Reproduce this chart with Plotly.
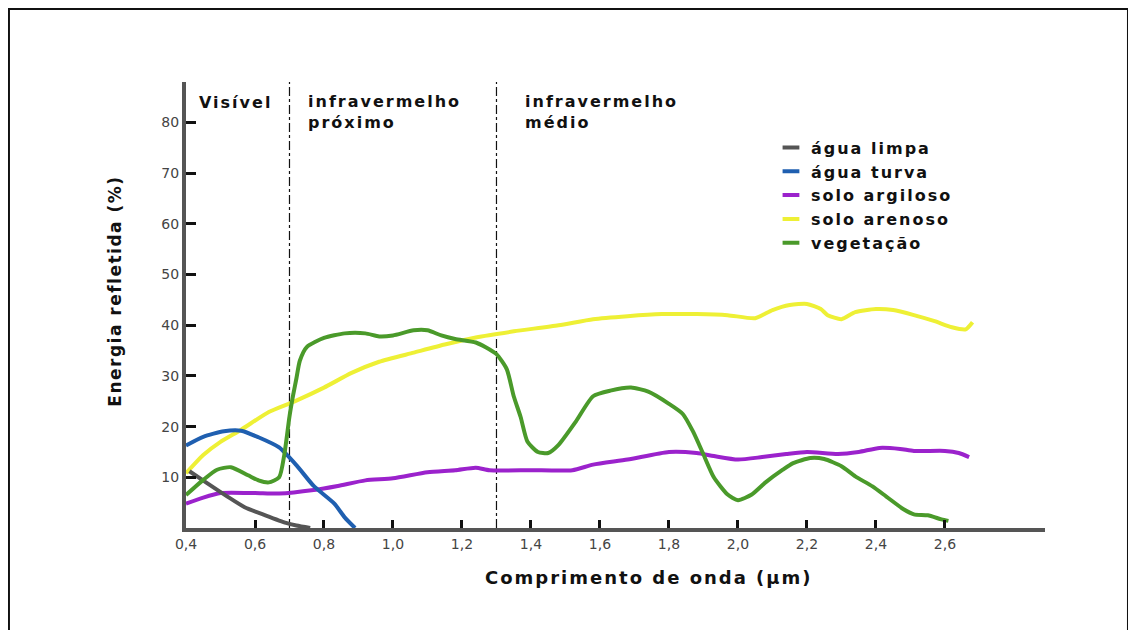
import plotly.graph_objects as go

# ---------------- data ----------------
agua_limpa_x = [0.41, 0.46, 0.52, 0.57, 0.63, 0.69, 0.72, 0.76]
agua_limpa_y = [11.2, 8.9, 6.2, 4.1, 2.5, 1.0, 0.5, 0.0]

agua_turva_x = [0.40, 0.45, 0.51, 0.56, 0.61, 0.67, 0.72, 0.77, 0.83, 0.86, 0.89]
agua_turva_y = [16.3, 18.0, 19.1, 19.2, 17.9, 15.9, 12.4, 8.3, 4.8, 2.1, 0.0]

solo_argiloso_x = [0.40, 0.45, 0.50, 0.60, 0.67, 0.77, 0.84, 0.92, 1.00, 1.10, 1.18, 1.24,
                   1.28, 1.40, 1.52, 1.58, 1.68, 1.80, 1.88, 1.93, 2.00, 2.07, 2.14, 2.20,
                   2.29, 2.35, 2.41, 2.47, 2.51, 2.60, 2.64, 2.67]
solo_argiloso_y = [4.8, 6.0, 6.9, 6.9, 6.8, 7.5, 8.3, 9.4, 9.8, 11.0, 11.4, 11.9,
                   11.4, 11.4, 11.4, 12.5, 13.5, 15.0, 14.8, 14.2, 13.5, 14.0, 14.6, 15.0,
                   14.6, 15.0, 15.8, 15.6, 15.2, 15.2, 14.8, 14.0]

solo_arenoso_x = [0.40, 0.45, 0.50, 0.56, 0.64, 0.715, 0.80, 0.88, 0.96, 1.06, 1.15, 1.24,
                  1.35, 1.48, 1.58, 1.68, 1.78, 1.88, 1.97, 2.05, 2.10, 2.15, 2.20, 2.24,
                  2.26, 2.30, 2.34, 2.40, 2.45, 2.51, 2.57, 2.62, 2.66, 2.68]
solo_arenoso_y = [10.8, 14.4, 17.0, 19.4, 22.9, 25.0, 27.7, 30.6, 32.8, 34.6, 36.2, 37.6,
                  38.8, 40.0, 41.2, 41.8, 42.2, 42.2, 42.0, 41.4, 43.0, 44.0, 44.2, 43.2,
                  42.0, 41.2, 42.6, 43.2, 43.0, 42.0, 40.8, 39.6, 39.2, 40.6]

vegetacao_x = [0.40, 0.45, 0.49, 0.53, 0.58, 0.61, 0.64, 0.67, 0.685, 0.70, 0.71, 0.72,
               0.73, 0.75, 0.80, 0.86, 0.92, 0.96, 1.00, 1.06, 1.10, 1.14, 1.18, 1.24,
               1.27, 1.30, 1.33, 1.35, 1.37, 1.39, 1.42, 1.45, 1.48, 1.53, 1.58, 1.63,
               1.69, 1.74, 1.80, 1.84, 1.87, 1.90, 1.93, 1.97, 2.00, 2.04, 2.08, 2.13,
               2.16, 2.21, 2.25, 2.30, 2.34, 2.39, 2.43, 2.48, 2.51, 2.55, 2.59, 2.61]
vegetacao_y = [6.5, 9.5, 11.5, 12.0, 10.4, 9.4, 9.0, 10.0, 14.5, 22.0, 26.0, 29.5,
               33.0, 35.7, 37.5, 38.4, 38.4, 37.8, 38.0, 39.0, 39.0, 38.0, 37.3, 36.6,
               35.6, 34.3, 31.3, 26.0, 21.9, 17.0, 15.0, 14.8, 16.4, 21.0, 26.0, 27.1,
               27.7, 26.9, 24.5, 22.5, 19.0, 14.5, 10.0, 6.6, 5.5, 6.6, 9.0, 11.5,
               12.8, 13.8, 13.6, 12.2, 10.2, 8.2, 6.2, 3.7, 2.7, 2.5, 1.7, 1.4]

series_names = ["água limpa", "água turva", "solo argiloso", "solo arenoso", "vegetação"]
series_colors = ["#555555", "#1f5fb0", "#9b22cc", "#eef035", "#4a9a2a"]

x_tickvals = [0.4, 0.6, 0.8, 1.0, 1.2, 1.4, 1.6, 1.8, 2.0, 2.2, 2.4, 2.6]
x_ticktext = ["0,4", "0,6", "0,8", "1,0", "1,2", "1,4", "1,6", "1,8", "2,0", "2,2", "2,4", "2,6"]
y_tickvals = [10, 20, 30, 40, 50, 60, 70, 80]

region_bounds = [0.7, 1.3]

# ---------------- figure ----------------
LABEL_FONT = "DejaVu Sans, Liberation Sans, Arial, sans-serif"
TICK_FONT = "DejaVu Sans, Liberation Sans, Arial, sans-serif"


def spaced(txt, ls=2):
    return '<span style="letter-spacing:%spx">%s</span>' % (ls, txt)


fig = go.Figure()

all_x = [agua_limpa_x, agua_turva_x, solo_argiloso_x, solo_arenoso_x, vegetacao_x]
all_y = [agua_limpa_y, agua_turva_y, solo_argiloso_y, solo_arenoso_y, vegetacao_y]

draw_order = [3, 2, 1, 0, 4]
for i in draw_order:
    fig.add_trace(go.Scatter(
        x=all_x[i], y=all_y[i], mode="lines", name=series_names[i],
        line=dict(color=series_colors[i], width=4, shape="spline", smoothing=0.6),
        showlegend=False, legendgroup=series_names[i], hoverinfo="x+y+name",
    ))

# legend entries (short thick dash samples)
for i in range(5):
    fig.add_trace(go.Scatter(
        x=[None], y=[None], mode="markers", name=spaced(series_names[i], 2),
        legendgroup=series_names[i],
        marker=dict(symbol="line-ew", size=12, color=series_colors[i],
                    line=dict(width=4, color=series_colors[i])),
    ))

for xb in region_bounds:
    fig.add_shape(type="line", xref="x", yref="paper", x0=xb, x1=xb, y0=0, y1=1,
                  line=dict(color="#111111", width=1.2, dash="dashdot"), layer="below")

# outer frame
fig.add_shape(type="rect", xref="paper", yref="paper",
              x0=-0.2061, x1=1.0966, y0=-0.3, y1=1.1637,
              line=dict(color="#111111", width=2), fillcolor="rgba(0,0,0,0)")

ann = dict(showarrow=False, font=dict(family=LABEL_FONT, size=16, color="#111111"))
fig.add_annotation(text="<b>" + spaced("Visível") + "</b>", xref="paper", yref="paper",
                   x=0.0128, y=0.955, xanchor="left", yanchor="middle", **ann)
fig.add_annotation(text="<b>" + spaced("infravermelho") + "<br>" + spaced("próximo") + "</b>",
                   xref="paper", yref="paper",
                   x=0.1397, y=0.982, xanchor="left", yanchor="top", align="left", **ann)
fig.add_annotation(text="<b>" + spaced("infravermelho") + "<br>" + spaced("médio") + "</b>",
                   xref="paper", yref="paper",
                   x=0.3923, y=0.982, xanchor="left", yanchor="top", align="left", **ann)

fig.add_annotation(text="<b>" + spaced("Comprimento de onda (µm)", 2) + "</b>",
                   xref="paper", yref="paper",
                   x=0.5390, y=-0.112, xanchor="center", yanchor="middle",
                   showarrow=False, font=dict(family=LABEL_FONT, size=18, color="#111111"))
fig.add_annotation(text="<b>" + spaced("Energia refletida (%)", 1.5) + "</b>",
                   xref="paper", yref="paper",
                   x=-0.082, y=0.531, xanchor="center", yanchor="middle", textangle=-90,
                   showarrow=False, font=dict(family=LABEL_FONT, size=17, color="#111111"))

fig.update_layout(
    width=1128, height=622,
    margin=dict(l=178, r=91, t=74, b=102),
    paper_bgcolor="white", plot_bgcolor="white",
    showlegend=True,
    legend=dict(x=0.681, y=0.891, xanchor="left", yanchor="top",
                bgcolor="rgba(0,0,0,0)", borderwidth=0,
                font=dict(family=LABEL_FONT, size=16, color="#111111", weight="bold"),
                tracegroupgap=0),
    xaxis=dict(range=[0.4, 2.89], tickvals=x_tickvals, ticktext=x_ticktext,
               showgrid=False, zeroline=False, showline=True, linecolor="#555555",
               linewidth=4, ticks="inside", ticklen=8, tickwidth=3, tickcolor="#111111",
               tickfont=dict(family=TICK_FONT, size=14, color="#444444")),
    yaxis=dict(range=[0, 88], tickvals=y_tickvals,
               showgrid=False, zeroline=False, showline=True, linecolor="#555555",
               linewidth=4, ticks="inside", ticklen=10, tickwidth=3, tickcolor="#111111",
               tickfont=dict(family=TICK_FONT, size=14, color="#444444")),
)

fig.write_html("out.html")
